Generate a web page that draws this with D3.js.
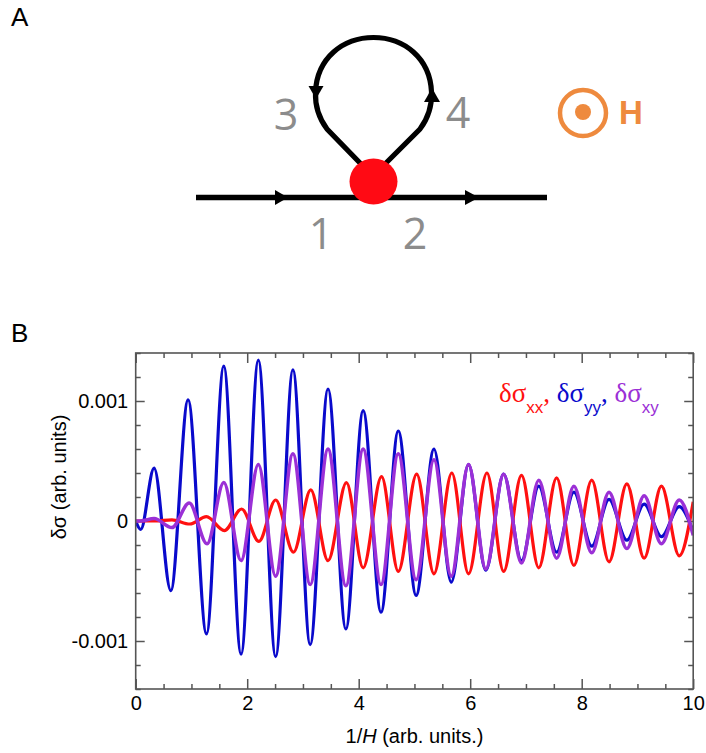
<!DOCTYPE html>
<html>
<head>
<meta charset="utf-8">
<script src="https://cdn.jsdelivr.net/npm/d3@7/dist/d3.min.js"></script>
<style>
	body { margin: 0; background: white; }
	text { font-family: "Liberation Sans", Arial, sans-serif; }
</style>
</head>
<body>
<svg id="fig" width="706" height="753"></svg>
<script>

// Axis ticks.
const xMajorTicks = [0, 2, 4, 6, 8, 10];
const xMinorTicks = [0.5, 1, 1.5, 2.5, 3, 3.5, 4.5, 5, 5.5, 6.5, 7, 7.5, 8.5, 9, 9.5];
const yMajorTicks = [-0.001, 0, 0.001];
const yMinorTicks = [-0.0014, -0.0012, -0.0008, -0.0006, -0.0004, -0.0002, 0.0002, 0.0004, 0.0006, 0.0008, 0.0012, 0.0014];
const yTickLabels = ["-0.001", "0", "0.001"];

// Turning points, [1/H, delta sigma].
const sigmaXX = [
	[0, 0], [0.35, 0], [0.65, 0.00001], [0.97, -0.000025], [1.27, 0.000036], [1.59, -0.00008],
	[1.90, 0.0001], [2.21, -0.00017], [2.51, 0.000175], [2.83, -0.00026], [3.14, 0.00026],
	[3.45, -0.00033], [3.78, 0.00032], [4.08, -0.00039], [4.41, 0.00037], [4.71, -0.00042],
	[5.04, 0.00039], [5.35, -0.00044], [5.67, 0.0004], [5.97, -0.00044], [6.30, 0.0004],
	[6.60, -0.00042], [6.92, 0.00038], [7.23, -0.00039], [7.55, 0.00036], [7.86, -0.00037],
	[8.18, 0.00034], [8.49, -0.00034], [8.81, 0.00031], [9.12, -0.00031], [9.43, 0.00029],
	[9.75, -0.00029], [10, 0.00016]
];

const sigmaYY = [
	[0, 0], [0.09, -0.00007], [0.33, 0.00044], [0.63, -0.00058], [0.94, 0.00101], [1.27, -0.00094],
	[1.58, 0.00129], [1.89, -0.00111], [2.20, 0.00134], [2.51, -0.00113], [2.82, 0.00126],
	[3.13, -0.00103], [3.45, 0.0011], [3.77, -0.0009], [4.08, 0.00092], [4.40, -0.00076],
	[4.71, 0.00075], [5.03, -0.00062], [5.35, 0.0006], [5.66, -0.00051], [5.97, 0.00047],
	[6.28, -0.00041], [6.60, 0.00039], [6.92, -0.00033], [7.23, 0.00029], [7.55, -0.00026],
	[7.86, 0.00024], [8.18, -0.00021], [8.49, 0.00018], [8.81, -0.00016], [9.12, 0.00014],
	[9.43, -0.00013], [9.75, 0.00012], [10, -0.00009]
];

const sigmaXY = [
	[0, 0], [0.09, 0], [0.33, 0.00002], [0.65, -0.000055], [0.96, 0.00015], [1.28, -0.00019],
	[1.58, 0.00032], [1.89, -0.00033], [2.20, 0.00047], [2.51, -0.00046], [2.82, 0.00056],
	[3.13, -0.00053], [3.45, 0.0006], [3.77, -0.00054], [4.08, 0.0006], [4.40, -0.00053],
	[4.71, 0.00056], [5.03, -0.00049], [5.35, 0.00051], [5.66, -0.00046], [5.97, 0.00047],
	[6.28, -0.0004], [6.60, 0.00039], [6.92, -0.00035], [7.23, 0.00034], [7.55, -0.00031],
	[7.86, 0.00029], [8.18, -0.000265], [8.49, 0.00024], [8.81, -0.00023], [9.12, 0.00021],
	[9.43, -0.00019], [9.75, 0.000175], [10, -0.00012]
];

const seriesColors = {xx: "#ff1010", yy: "#0a0acc", xy: "#9b30d6"};


let svg = d3.select("#fig");


// ---------------- Panel A: the diagram ----------------
svg.append("text").attr("x", 11).attr("y", 26).attr("font-size", 26).text("A");

let diagram = svg.append("g");

// Straight line 1 -> 2.
diagram.append("line")
	.attr("x1", 196).attr("y1", 197.5).attr("x2", 547).attr("y2", 197.5)
	.attr("stroke", "black").attr("stroke-width", 5.5);

// Loop 3 -> 4.
diagram.append("path")
	.attr("d", "M361,164 L327,129 C318,117 315,106 315.5,92 C317,58 343,37.5 373.5,37.5 C404,37.5 430,58 431.5,92 C432,106 429,117 420,129 L385,164")
	.attr("fill", "none").attr("stroke", "black").attr("stroke-width", 5.2);

// Arrow heads.
let arrows = [
	"M275,190 L288,197.5 L275,205 Z",
	"M465,190 L479,197.5 L465,205 Z",
	"M308.5,86 L316,99 L323.5,86 Z",
	"M424,102 L432,88 L440,102 Z"
];
diagram.selectAll("path.arrow")
	.data(arrows)
	.enter()
	.append("path")
	.attr("class", "arrow")
	.attr("d", d=>d)
	.attr("fill", "black");

// Vertex.
diagram.append("ellipse")
	.attr("cx", 373.5).attr("cy", 181.5).attr("rx", 24).attr("ry", 23)
	.attr("fill", "#ff0a14");

// Leg labels.
let legLabels = [
	{t: "3", x: 286, y: 130},
	{t: "4", x: 458, y: 128},
	{t: "1", x: 321, y: 249},
	{t: "2", x: 415, y: 249}
];
diagram.selectAll("text.leg")
	.data(legLabels)
	.enter()
	.append("text")
	.attr("class", "leg")
	.attr("x", d=>d.x).attr("y", d=>d.y)
	.attr("text-anchor", "middle")
	.attr("font-size", 43)
	.style("font-family", "'Open Sans', sans-serif")
	.attr("fill", "#8c8c8c")
	.text(d=>d.t);

// Field symbol.
diagram.append("circle")
	.attr("cx", 583).attr("cy", 113).attr("r", 23)
	.attr("fill", "none").attr("stroke", "#ee8a3e").attr("stroke-width", 4.5);
diagram.append("circle")
	.attr("cx", 583).attr("cy", 112).attr("r", 8)
	.attr("fill", "#ee8a3e");
diagram.append("text")
	.attr("x", 619).attr("y", 124)
	.attr("font-size", 33).attr("font-weight", "bold")
	.attr("fill", "#ee8a3e")
	.text("H");


// ---------------- Panel B: the plot ----------------
svg.append("text").attr("x", 11).attr("y", 342).attr("font-size", 26).text("B");

let frame = {left: 135.7, right: 693.2, top: 353, bottom: 689};

let x = d3.scaleLinear().domain([0, 10]).range([frame.left, frame.right]);
let y = d3.scaleLinear().domain([-0.0014, 0.0014]).range([frame.bottom, frame.top]);

let axisColor = "#555";

function styleAxis(g){
	g.select(".domain").remove();
	g.selectAll(".tick line").attr("stroke", axisColor).attr("stroke-width", 1.5);
	g.selectAll(".tick text")
	  .attr("fill", "black")
	  .attr("font-size", 20)
	  .style("font-family", "'Liberation Sans', Arial, sans-serif");
} // styleAxis

// Bottom.
svg.append("g")
	.attr("transform", `translate(0,${frame.bottom})`)
	.call(d3.axisBottom(x).tickValues(xMajorTicks).tickSize(-10).tickPadding(7).tickFormat(d3.format("d")))
	.call(styleAxis);
svg.append("g")
	.attr("transform", `translate(0,${frame.bottom})`)
	.call(d3.axisBottom(x).tickValues(xMinorTicks).tickSize(-5).tickFormat(""))
	.call(styleAxis);

// Top.
svg.append("g")
	.attr("transform", `translate(0,${frame.top})`)
	.call(d3.axisTop(x).tickValues(xMajorTicks).tickSize(-10).tickFormat(""))
	.call(styleAxis);
svg.append("g")
	.attr("transform", `translate(0,${frame.top})`)
	.call(d3.axisTop(x).tickValues(xMinorTicks).tickSize(-5).tickFormat(""))
	.call(styleAxis);

// Left.
svg.append("g")
	.attr("transform", `translate(${frame.left},0)`)
	.call(d3.axisLeft(y).tickValues(yMajorTicks).tickSize(-9).tickPadding(7.5).tickFormat((d,i)=>yTickLabels[i]))
	.call(styleAxis);
svg.append("g")
	.attr("transform", `translate(${frame.left},0)`)
	.call(d3.axisLeft(y).tickValues(yMinorTicks).tickSize(-5).tickFormat(""))
	.call(styleAxis);

// Right.
svg.append("g")
	.attr("transform", `translate(${frame.right},0)`)
	.call(d3.axisRight(y).tickValues(yMajorTicks).tickSize(-9).tickFormat(""))
	.call(styleAxis);
svg.append("g")
	.attr("transform", `translate(${frame.right},0)`)
	.call(d3.axisRight(y).tickValues(yMinorTicks).tickSize(-5).tickFormat(""))
	.call(styleAxis);


// Curves.
svg.append("clipPath").attr("id", "plotclip")
  .append("rect")
	.attr("x", frame.left).attr("y", frame.top)
	.attr("width", frame.right-frame.left).attr("height", frame.bottom-frame.top);

let line = d3.line()
	.x(d=>x(d[0]))
	.y(d=>y(d[1]))
	.curve(d3.curveMonotoneX);

let curves = [
	{key: "yy", points: sigmaYY, width: 3.2},
	{key: "xx", points: sigmaXX, width: 3.2},
	{key: "xy", points: sigmaXY, width: 3.5}
];

svg.append("g")
	.attr("clip-path", "url(#plotclip)")
	.selectAll("path")
	.data(curves)
	.enter()
	.append("path")
	.attr("fill", "none")
	.attr("stroke", d=>seriesColors[d.key])
	.attr("stroke-width", d=>d.width)
	.attr("d", d=>line(d.points));


// Frame on top of everything.
svg.append("rect")
	.attr("x", frame.left).attr("y", frame.top)
	.attr("width", frame.right-frame.left).attr("height", frame.bottom-frame.top)
	.attr("fill", "none").attr("stroke", axisColor).attr("stroke-width", 1.6);


// Axis titles.
let xtitle = svg.append("text")
	.attr("x", (frame.left+frame.right)/2).attr("y", 743)
	.attr("text-anchor", "middle").attr("font-size", 20);
xtitle.append("tspan").text("1/");
xtitle.append("tspan").attr("font-style", "italic").text("H");
xtitle.append("tspan").text(" (arb. units.)");

svg.append("text")
	.attr("transform", "translate(66,477) rotate(-90)")
	.attr("text-anchor", "middle").attr("font-size", 20)
	.text("δσ (arb. units)");


// Legend.
let legend = svg.append("text").attr("x", 499).attr("y", 401.5);
let legendItems = [
	{key: "xx", sep: ", "},
	{key: "yy", sep: ", "},
	{key: "xy", sep: ""}
];
legendItems.forEach(item=>{
	legend.append("tspan")
	  .attr("fill", seriesColors[item.key])
	  .attr("font-size", 27)
	  .style("font-family", "'Liberation Serif', 'Times New Roman', serif")
	  .text("δσ");
	legend.append("tspan")
	  .attr("fill", seriesColors[item.key])
	  .attr("font-size", 17)
	  .attr("dy", 11)
	  .text(item.key);
	legend.append("tspan")
	  .attr("fill", seriesColors[item.key])
	  .attr("font-size", 27)
	  .attr("dy", -11)
	  .style("font-family", "'Liberation Serif', 'Times New Roman', serif")
	  .style("white-space", "pre")
	  .text(item.sep);
}) // forEach

</script>
</body>
</html>
